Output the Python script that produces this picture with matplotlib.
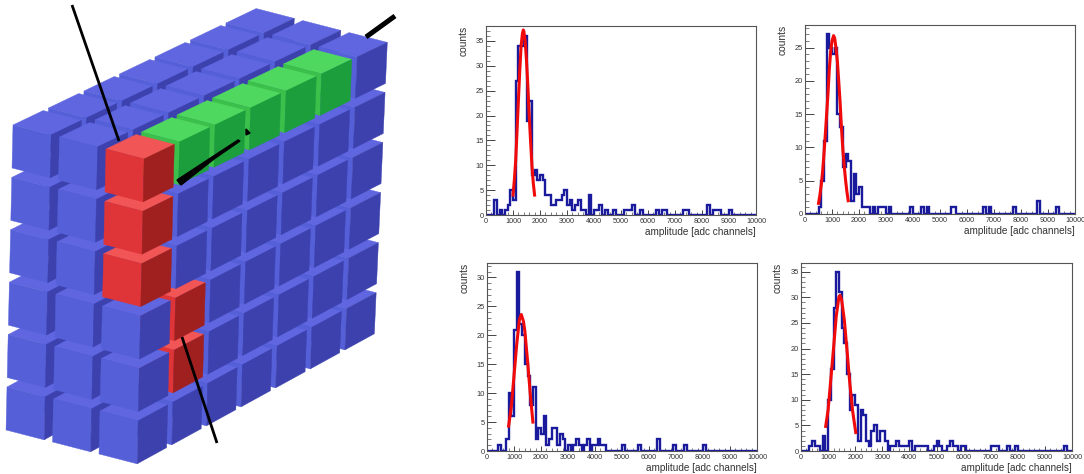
import numpy as np
import matplotlib
matplotlib.use('Agg')
import matplotlib.pyplot as plt
from matplotlib.patches import Polygon

plt.rcParams['font.family'] = ['Liberation Sans', 'DejaVu Sans']

W, H = 1084, 474

# histogram contents, one value per 100 adc channels
counts_tl = [0, 0, 0, 3, 0, 1, 0, 1, 2, 5,
             3, 27, 34, 34, 36, 19, 23, 8, 9, 7,
             8, 7, 4, 4, 2, 2, 3, 3, 4, 5,
             2, 3, 1, 2, 3, 1, 1, 0, 4, 0,
             1, 1, 2, 0, 1, 0, 0, 1, 0, 0,
             0, 1, 1, 1, 2, 0, 0, 1, 0, 0,
             0, 0, 0, 1, 0, 1, 1, 0, 0, 0,
             0, 0, 0, 1, 1, 0, 0, 0, 0, 0,
             0, 0, 2, 0, 1, 1, 1, 0, 0, 0,
             1, 0, 0, 0, 0, 0, 0, 0, 0, 0]
counts_tr = [0, 0, 0, 0, 0, 1, 5, 11, 27, 25,
             24, 25, 15, 13, 7, 9, 8, 2, 6, 3,
             4, 1, 1, 1, 0, 1, 0, 1, 1, 1,
             0, 1, 0, 0, 0, 0, 0, 0, 0, 1,
             0, 0, 0, 1, 0, 1, 0, 0, 0, 0,
             0, 0, 0, 0, 1, 1, 0, 0, 0, 0,
             0, 0, 0, 0, 0, 0, 1, 0, 1, 0,
             0, 0, 0, 0, 0, 0, 0, 1, 0, 0,
             0, 0, 0, 0, 0, 0, 2, 0, 0, 0,
             0, 0, 0, 1, 0, 0, 0, 0, 0, 0]
counts_bl = [0, 0, 0, 0, 1, 0, 0, 2, 10, 6,
             21, 31, 22, 20, 15, 13, 8, 11, 2, 4,
             3, 6, 1, 2, 4, 4, 1, 3, 2, 0,
             1, 0, 1, 2, 1, 0, 1, 2, 0, 1,
             1, 2, 1, 1, 0, 0, 0, 0, 0, 0,
             1, 0, 0, 0, 0, 0, 1, 0, 0, 0,
             0, 0, 0, 2, 0, 0, 0, 0, 0, 1,
             0, 0, 0, 1, 0, 0, 0, 0, 0, 0,
             1, 0, 0, 0, 0, 0, 0, 0, 0, 0,
             0, 0, 0, 0, 0, 0, 0, 0, 0, 0]
counts_br = [0, 0, 0, 1, 2, 1, 1, 0, 3, 0,
             10, 16, 28, 35, 31, 24, 21, 15, 8, 11,
             9, 2, 8, 7, 2, 1, 4, 5, 2, 4,
             4, 2, 0, 1, 1, 2, 1, 1, 1, 1,
             2, 0, 1, 1, 1, 1, 1, 0, 0, 1,
             2, 1, 0, 0, 1, 2, 1, 1, 0, 1,
             1, 0, 0, 0, 0, 0, 0, 0, 0, 0,
             1, 1, 1, 0, 0, 0, 1, 0, 0, 1,
             0, 0, 0, 0, 0, 0, 0, 0, 0, 0,
             0, 0, 0, 0, 0, 0, 0, 1, 0, 0]
bin_edges = np.arange(0, 10001, 100)

# red fit curves
fit_x_tl = [1000, 1050, 1100, 1150, 1200, 1250, 1300, 1350, 1380, 1400, 1450, 1500, 1550, 1600, 1650, 1700, 1750, 1800]
fit_y_tl = [4, 7, 11, 17, 23, 29, 34, 36.5, 37.2, 37, 35, 31, 26, 20, 15, 10, 6.5, 4]
fit_x_tr = [500, 550, 600, 650, 700, 750, 800, 850, 900, 950, 1000, 1060, 1100, 1150, 1200, 1250, 1300, 1350, 1400, 1450, 1500, 1550, 1600]
fit_y_tr = [1.6, 2.8, 4.3, 6.3, 8.9, 11.8, 14.9, 18, 21.7, 24.4, 26, 26.8, 26.4, 24.9, 22.9, 19.9, 16.8, 13, 9.8, 7.3, 5.2, 3.4, 2]
fit_x_bl = [800, 900, 1000, 1100, 1200, 1270, 1350, 1400, 1500, 1600, 1700]
fit_y_bl = [4.3, 7.6, 13, 18.4, 22.7, 23.6, 22.4, 20.8, 15.7, 10, 5]
fit_x_br = [910, 1000, 1100, 1200, 1300, 1400, 1440, 1500, 1600, 1700, 1800, 1900, 2020]
fit_y_br = [4.8, 8, 14, 20, 26.3, 30.1, 30.4, 29.5, 25.5, 19.5, 13.3, 8, 3.6]

# (left, right, top, bottom) in pixels, y max, counts, fit
panels = [
    ((486, 756, 26, 215), 38.0, counts_tl, fit_x_tl, fit_y_tl),
    ((805, 1075, 25, 214), 28.4, counts_tr, fit_x_tr, fit_y_tr),
    ((487, 757, 263, 451), 32.5, counts_bl, fit_x_bl, fit_y_bl),
    ((801, 1072, 263, 451), 36.7, counts_br, fit_x_br, fit_y_br),
]

# cube wall seen from above
n_thick, n_long, n_rows = 3, 7, 6
red_cubes = [(2, 0, 0), (2, 0, 1), (2, 0, 2), (2, 1, 3), (2, 1, 4)]
green_cubes = [(2, 1, 0), (2, 2, 0), (2, 3, 0), (2, 4, 0), (2, 5, 0)]
blue_faces = ('#5f66e0', '#5560d8', '#3c41ae')
red_faces = ('#f25555', '#df3538', '#a02020')
green_faces = ('#4fd860', '#3cc04c', '#1c9e3c')


def project(u, v, r):
    # u across the wall, v along it, r downwards, all in cube units
    x = 13 + 46.5 * u + 35.5 * v - (1.2 + 0.15 * v) * r
    y = 125 + 12 * u - 17 * v + 52.4 * r * (1 - 0.0065 * v)
    return x, y


fig = plt.figure(figsize=(W / 100, H / 100), dpi=100)

bg = fig.add_axes([0, 0, 1, 1])
bg.set_xlim(0, W)
bg.set_ylim(H, 0)
bg.axis('off')

eu, ev, er = 0.82, 0.85, 0.82
zo = 2
for v in range(n_long - 1, -1, -1):
    for u in range(n_thick):
        for r in range(n_rows - 1, -1, -1):
            if (u, v, r) in red_cubes:
                faces = red_faces
            elif (u, v, r) in green_cubes:
                faces = green_faces
            else:
                faces = blue_faces
            top = [project(u, v, r), project(u, v + ev, r), project(u + eu, v + ev, r), project(u + eu, v, r)]
            left = [project(u, v, r), project(u + eu, v, r), project(u + eu, v, r + er), project(u, v, r + er)]
            right = [project(u + eu, v, r), project(u + eu, v + ev, r), project(u + eu, v + ev, r + er), project(u + eu, v, r + er)]
            for pts, col in zip((top, left, right), faces):
                bg.add_patch(Polygon(pts, closed=True, facecolor=col, edgecolor=col, lw=0.3, zorder=zo))
            zo += 0.01

# particle tracks
bg.plot([72, 119], [5, 141], color='black', lw=2.0, solid_capstyle='butt', zorder=20)
bg.plot([395, 366], [16, 37], color='black', lw=3.6, solid_capstyle='butt', zorder=20)
bg.add_patch(Polygon([(177, 180), (181, 185), (214, 159), (240, 141), (238, 140)], closed=True, color='black', zorder=20))
bg.add_patch(Polygon([(246, 129), (250, 133), (246, 135)], closed=True, color='black', zorder=20))
bg.plot([182, 217], [337, 443], color='black', lw=2.0, solid_capstyle='butt', zorder=20)

for (left, right, top, bottom), ymax, counts, fx, fy in panels:
    ax = fig.add_axes([left / W, 1 - bottom / H, (right - left) / W, (bottom - top) / H])
    ax.stairs(counts, bin_edges, color='#1a1a9c', lw=1.7, zorder=2)
    ax.plot(fx, fy, color='#f00a0a', lw=2.2, zorder=3)
    ax.set_xlim(0, 10000)
    ax.set_ylim(0, ymax)
    ax.set_xticks(np.arange(0, 10001, 1000))
    ax.set_xticks(np.arange(0, 10001, 200), minor=True)
    ax.set_yticks(np.arange(0, ymax, 5))
    ax.set_yticks(np.arange(0, ymax, 1), minor=True)
    ax.tick_params(axis='x', which='major', direction='in', length=3.6, width=0.7, color='#444444',
                   labelsize=5.2, labelcolor='#333333', pad=2)
    ax.tick_params(axis='x', which='minor', direction='in', length=1.9, width=0.6, color='#666666')
    ax.tick_params(axis='y', which='major', direction='in', length=6.5, width=0.7, color='#444444',
                   labelsize=5.4, labelcolor='#333333', pad=1.5)
    ax.tick_params(axis='y', which='minor', direction='in', length=3.2, width=0.6, color='#666666')
    for spine in ax.spines.values():
        spine.set_color('#555555')
        spine.set_linewidth(0.8)
    ax.set_xlabel('amplitude [adc channels]', loc='right', fontsize=7.2, color='#333333')
    ax.set_ylabel('counts', loc='top', fontsize=7.4, color='#333333')
    ax.xaxis.set_label_coords(1.0, -0.065)
    ax.yaxis.set_label_coords(-0.066, 1.0)

fig.savefig('out.png', dpi=100)
